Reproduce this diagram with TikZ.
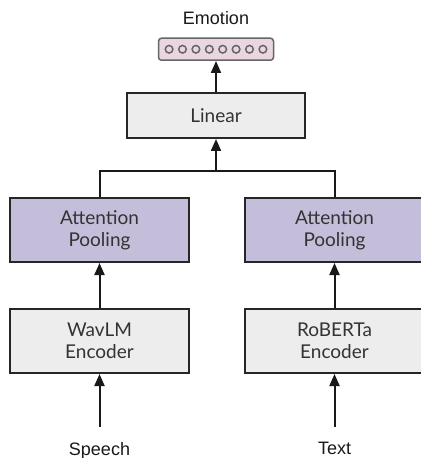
\documentclass[tikz,border=0pt]{standalone}
\usepackage{fontspec}
\setmainfont{Lato}
\newfontfamily\labelfont{Liberation Sans}
\usetikzlibrary{positioning,arrows.meta}
\definecolor{poolfill}{HTML}{C4BEDA}
\definecolor{vecfill}{HTML}{E9D6E1}
\tikzset{
    block/.style={
        draw=black!85,
        line width=2bp,
        minimum width=179bp,
        minimum height=64bp,
        inner sep=0pt,
        align=center,
        text=black!80,
        font=\fontsize{19bp}{22bp}\selectfont
    },
    encoder/.style={block, fill=black!7},
    pooling/.style={block, fill=poolfill},
    io/.style={
        inner sep=0pt,
        text=black!90,
        font=\labelfont\fontsize{18bp}{22bp}\selectfont
    },
    vector/.style={
        draw=black!60,
        line width=1.5bp,
        rounded corners=3bp,
        fill=vecfill,
        minimum width=115bp,
        minimum height=22bp
    },
    flow/.style={
        line width=2bp,
        draw=black!90,
        -{Triangle[length=12bp,width=10bp]}
    },
    joint/.style={line width=2bp, draw=black!90}
}

\begin{document}
\begin{tikzpicture}[x=1bp,y=-1bp]
    \useasboundingbox (0,0) rectangle (420,458);

    % encoders
    \node[encoder] (WavLM) at (99.5,341) {WavLM\\Encoder};
    \node[encoder,right=54bp of WavLM] (RoBERTa) {RoBERTa\\Encoder};

    % pooling
    \node[pooling,above=45bp of WavLM] (PoolSpeech) {Attention\\Pooling};
    \node[pooling,above=45bp of RoBERTa] (PoolText) {Attention\\Pooling};

    % head
    \node[encoder,minimum width=178bp,minimum height=45bp] (Linear) at (216,115.5) {Linear};
    \node[vector,above=31bp of Linear] (Vec) {};
    \foreach \i in {0,...,7}
        \draw[black!60,line width=1.5bp] ([xshift={(\i-3.5)*13.4bp}]Vec.center) circle (3.8bp);
    \node[io,above=13bp of Vec] (Emotion) {Emotion};

    % inputs
    \coordinate[below=53bp of WavLM] (SpeechIn);
    \coordinate[below=53bp of RoBERTa] (TextIn);
    \node[io,below=15bp of SpeechIn] (Speech) {Speech};
    \node[io,below=15bp of TextIn] (Text) {Text};

    \coordinate[below=32bp of Linear] (Join);

    \draw[flow] (SpeechIn) -- (WavLM);
    \draw[flow] (TextIn) -- (RoBERTa);
    \draw[flow] (WavLM) -- (PoolSpeech);
    \draw[flow] (RoBERTa) -- (PoolText);
    \draw[joint] (PoolSpeech.north) |- (Join) -| (PoolText.north);
    \draw[flow] (Join) -- (Linear);
    \draw[flow] (Linear) -- (Vec);
\end{tikzpicture}
\end{document}
